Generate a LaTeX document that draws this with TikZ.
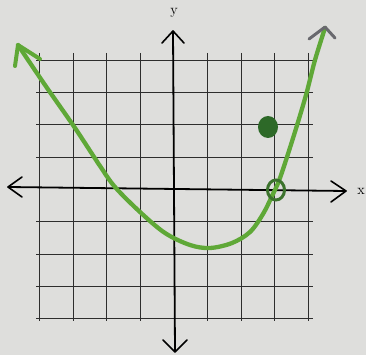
\documentclass[tikz,border=0pt]{standalone}
\usetikzlibrary{arrows.meta}
\definecolor{paper}{RGB}{222,222,220}
\definecolor{gridc}{RGB}{45,45,45}
\definecolor{curvec}{RGB}{95,168,55}
\definecolor{dotc}{RGB}{45,105,40}
\definecolor{ringc}{RGB}{60,115,45}
\definecolor{pencil}{RGB}{105,105,110}
\tikzset{
  gridline/.style={gridc, line width=1.2pt},
  axisline/.style={black, line width=1.8pt},
  axishead/.style={black, line width=1.6pt, line cap=round, line join=round},
  curveline/.style={curvec, line width=4.3pt, line cap=round, line join=round},
  lbl/.style={font=\Large, inner sep=0pt}
}
\begin{document}
\begin{tikzpicture}[x=1pt,y=-1pt]
\fill[paper] (0,0) rectangle (366,355);
\useasboundingbox (0,0) rectangle (366,355);
% grid
\foreach \k in {-4,-3,-2,-1,1,2,3,4}{
  \draw[gridline] ({174+33.6*\k},53) -- ({174+33.6*\k},321);
  \draw[gridline] (36,{189.5-32.3*\k}) -- (313,{189.5-32.3*\k});
}
% axes
\coordinate (xl) at (8,187);
\coordinate (xr) at (346,191);
\coordinate (yt) at (173,31);
\coordinate (yb) at (175,352);
\draw[axisline] (xl) -- (xr);
\draw[axisline] (yt) -- (yb);
\draw[axishead] (22,177) -- (xl) -- (22,197);
\draw[axishead] (331,181) -- (xr) -- (331,202);
\draw[axishead] (162,43) -- (yt) -- (184,43);
\draw[axishead] (163,340) -- (yb) -- (187,340);
\node[lbl] (ylab) at (174,13) {y};
\node[lbl] (xlab) at (361,191) {x};
% curve
\draw[curveline] plot[smooth, tension=0.55] coordinates {(18,45) (45,85) (75,128) (100,166) (115,187) (140,212) (165,233) (190,245) (210,248) (232,243) (250,232) (263,214) (272,196) (280,178) (294,135) (306,95) (315,60) (325,28)};
\draw[curvec, line width=4pt, line cap=round, line join=round] (15,66) -- (18,45) -- (40,59);
\draw[pencil, line width=3pt, line cap=round, line join=round] (309,39) -- (325,27) -- (335,38);
% points
\draw[ringc, line width=3pt] (276,190) ellipse [x radius=8.5, y radius=10];
\fill[dotc] (268,127) ellipse [x radius=10, y radius=11];
\end{tikzpicture}
\end{document}
